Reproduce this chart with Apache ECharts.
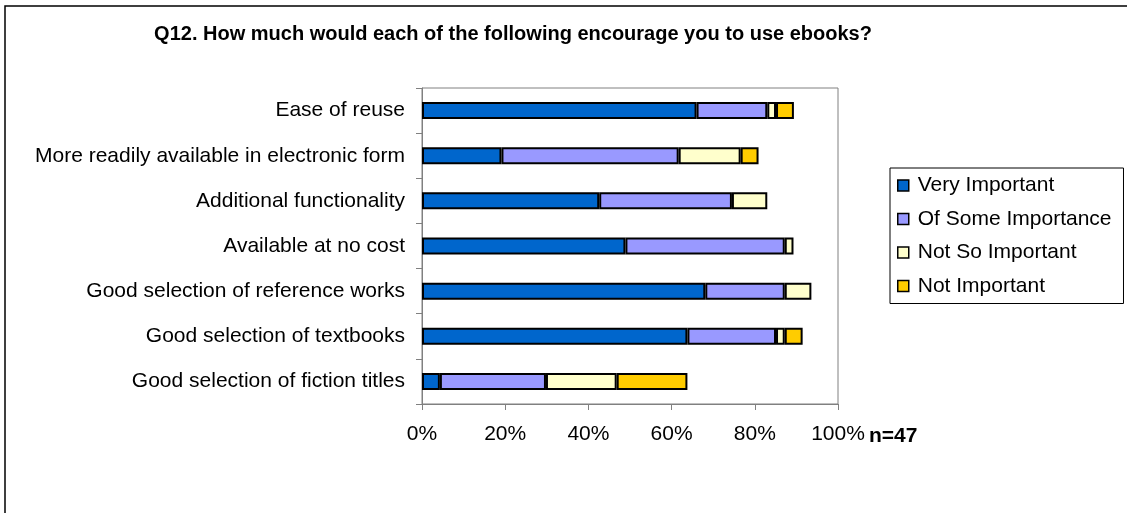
<!DOCTYPE html>
<html>
<head>
<meta charset="utf-8">
<title>Q12 ebooks</title>
<script src="https://cdn.jsdelivr.net/npm/echarts@6/dist/echarts.min.js"></script>
<style>
  html, body { margin: 0; padding: 0; background: #fff; }
  #chart { width: 1127px; height: 513px; }
</style>
</head>
<body>
<div id="chart"></div>
<script>
// Survey items, top to bottom
const categories = [
  'Ease of reuse',
  'More readily available in electronic form',
  'Additional functionality',
  'Available at no cost',
  'Good selection of reference works',
  'Good selection of textbooks',
  'Good selection of fiction titles'
];

// Share of respondents (%) per answer, n=47
const veryImportant     = [66.0, 19.1, 42.6, 48.9, 68.1, 63.8, 4.3];
const ofSomeImportance  = [17.0, 42.6, 31.9, 38.3, 19.1, 21.3, 25.5];
const notSoImportant    = [2.1, 14.9, 8.5, 2.1, 6.4, 2.1, 17.0];
const notImportant      = [4.3, 4.3, 0, 0, 0, 4.3, 17.0];

const xTicks = [0, 20, 40, 60, 80, 100];
const sampleNote = 'n=47';
const titleText = 'Q12. How much would each of the following encourage you to use ebooks?';

const FONT = '"Liberation Sans", Arial, sans-serif';

const seriesDefs = [
  { name: 'Very Important', data: veryImportant, color: '#0066CC' },
  { name: 'Of Some Importance', data: ofSomeImportance, color: '#9999FF' },
  { name: 'Not So Important', data: notSoImportant, color: '#FFFFCC' },
  { name: 'Not Important', data: notImportant, color: '#FFCC00' }
];

const chart = echarts.init(document.getElementById('chart'), null, { renderer: 'canvas' });

chart.setOption({
  animation: false,
  backgroundColor: '#fff',
  legend: {
    orient: 'vertical',
    left: 890,
    top: 168,
    padding: [7, 12, 7, 7],
    itemWidth: 11,
    itemHeight: 11,
    itemGap: 12.5,
    borderColor: '#000',
    borderWidth: 1,
    icon: 'rect',
    itemStyle: { borderColor: '#000', borderWidth: 1.5 },
    textStyle: { fontFamily: FONT, fontSize: 21, color: '#000', padding: [0, 0, 0, 4] },
    data: seriesDefs.map(s => s.name)
  },
  grid: {
    left: 422,
    top: 88,
    width: 416,
    height: 316,
    show: true,
    borderColor: '#808080',
    borderWidth: 1,
    containLabel: false
  },
  xAxis: {
    type: 'value',
    min: xTicks[0],
    max: xTicks[xTicks.length - 1],
    interval: 20,
    axisLine: { show: true, lineStyle: { color: '#808080', width: 1 } },
    axisTick: { show: true, length: 6, lineStyle: { color: '#808080' } },
    splitLine: { show: false },
    axisLabel: {
      margin: 20,
      fontFamily: FONT,
      fontSize: 21,
      color: '#000',
      formatter: '{value}%'
    }
  },
  yAxis: {
    type: 'category',
    inverse: true,
    data: categories,
    axisLine: { show: true, lineStyle: { color: '#808080', width: 1 } },
    axisTick: { show: true, length: 6, lineStyle: { color: '#808080' } },
    splitLine: { show: false },
    axisLabel: { margin: 17, fontFamily: FONT, fontSize: 21, color: '#000' }
  },
  graphic: [
    {
      type: 'rect',
      shape: { x: 5, y: 6, width: 1400, height: 700 },
      style: { fill: 'none', stroke: '#000', lineWidth: 1.5 },
      silent: true
    },
    {
      type: 'text',
      x: 513,
      y: 34,
      style: {
        text: titleText,
        font: 'bold 20px ' + FONT,
        fill: '#000',
        align: 'center',
        verticalAlign: 'middle'
      }
    },
    {
      type: 'text',
      left: 869,
      top: 426,
      style: { text: sampleNote, font: 'bold 21px ' + FONT, fill: '#000' }
    }
  ],
  series: seriesDefs.map(s => ({
    name: s.name,
    type: 'bar',
    stack: 'total',
    barWidth: 17,
    itemStyle: { color: s.color, borderColor: '#000', borderWidth: 2 },
    emphasis: { disabled: true },
    data: s.data.map(v => (v === 0 ? null : v))
  }))
});
</script>
</body>
</html>
